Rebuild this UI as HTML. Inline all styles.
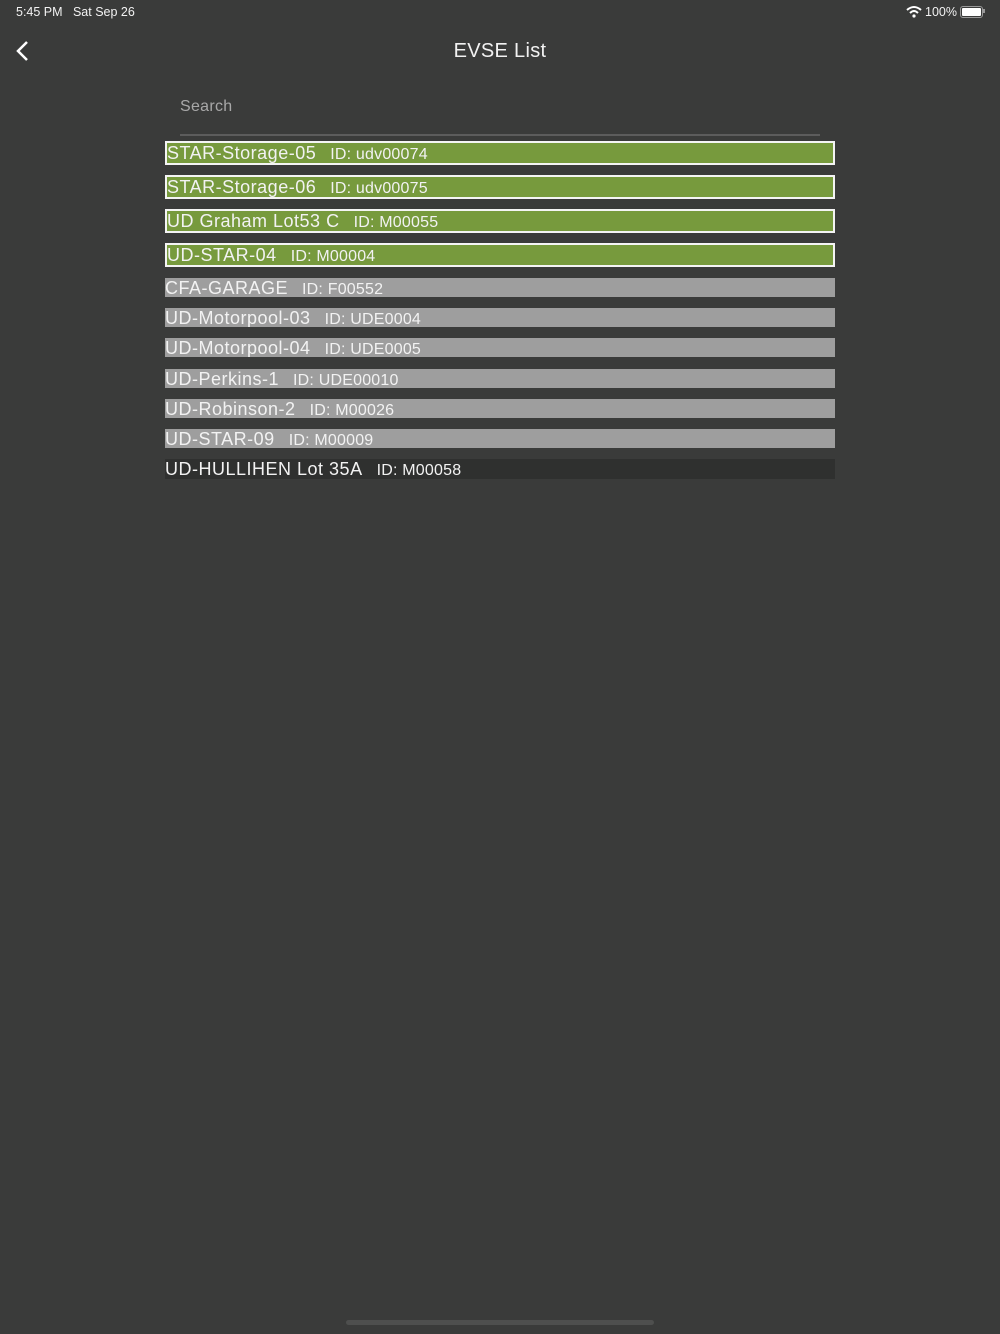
<!DOCTYPE html>
<html><head><meta charset="utf-8"><style>
body{margin:0;width:1000px;height:1334px;background:#3a3b3a;font-family:"Liberation Sans",sans-serif;position:relative;overflow:hidden;color:#f2f2f2}
.a{position:absolute}
.row{position:absolute;left:165px;width:670px;box-sizing:border-box;white-space:nowrap;overflow:hidden}
.g{background:#779a3d;border:2px solid #f4f4f4;height:24px;line-height:21px;padding-left:0}
.y{background:#9e9e9e;height:19px;line-height:20px}
.d{background:#2f302f;height:20px;line-height:21px}
.n{font-size:18px;letter-spacing:0.5px}
.i{font-size:16px;margin-left:14px;letter-spacing:0.2px}
</style></head><body>
<div class="a" style="left:16px;top:5px;font-size:12.5px">5:45 PM&nbsp;&nbsp; Sat Sep 26</div>
<svg class="a" style="left:906px;top:5px" width="16" height="13" viewBox="0 0 16 13"><path d="M1 5 Q8 -1 15 5" stroke="#fff" stroke-width="2" fill="none"/><path d="M4 8 Q8 4 12 8" stroke="#fff" stroke-width="2" fill="none"/><circle cx="8" cy="11" r="1.6" fill="#fff"/></svg>
<div class="a" style="left:925px;top:5px;font-size:12.5px">100%</div>
<div class="a" style="left:960px;top:6px;width:21px;height:10px;border:1px solid #999;border-radius:3px"><div style="margin:1px;height:8px;background:#fff;border-radius:1px"></div></div>
<div class="a" style="left:983px;top:9px;width:2px;height:4px;background:#999"></div>
<svg class="a" style="left:14px;top:40px" width="16" height="22"><path d="M13 2 L4 11 L13 20" stroke="#fff" stroke-width="2.5" fill="none"/></svg>
<div class="a" style="left:0;width:1000px;top:40px;text-align:center;font-size:20px;letter-spacing:0.3px">EVSE List</div>
<div class="a" style="left:180px;top:98px;font-size:16px;color:#a8a8a8;letter-spacing:0.3px">Search</div>
<div class="a" style="left:180px;top:134px;width:640px;height:2px;background:#5c5c5c"></div>
<div class="row g" style="top:141px"><span class="n">STAR-Storage-05</span><span class="i">ID: udv00074</span></div>
<div class="row g" style="top:175px"><span class="n">STAR-Storage-06</span><span class="i">ID: udv00075</span></div>
<div class="row g" style="top:209px"><span class="n">UD Graham Lot53 C</span><span class="i">ID: M00055</span></div>
<div class="row g" style="top:243px"><span class="n">UD-STAR-04</span><span class="i">ID: M00004</span></div>
<div class="row y" style="top:278px"><span class="n">CFA-GARAGE</span><span class="i">ID: F00552</span></div>
<div class="row y" style="top:308px"><span class="n">UD-Motorpool-03</span><span class="i">ID: UDE0004</span></div>
<div class="row y" style="top:338px"><span class="n">UD-Motorpool-04</span><span class="i">ID: UDE0005</span></div>
<div class="row y" style="top:369px"><span class="n">UD-Perkins-1</span><span class="i">ID: UDE00010</span></div>
<div class="row y" style="top:399px"><span class="n">UD-Robinson-2</span><span class="i">ID: M00026</span></div>
<div class="row y" style="top:429px"><span class="n">UD-STAR-09</span><span class="i">ID: M00009</span></div>
<div class="row d" style="top:459px"><span class="n">UD-HULLIHEN Lot 35A</span><span class="i">ID: M00058</span></div>
<div class="a" style="left:346px;top:1320px;width:308px;height:5px;border-radius:3px;background:#4e4f4e"></div>
</body></html>
